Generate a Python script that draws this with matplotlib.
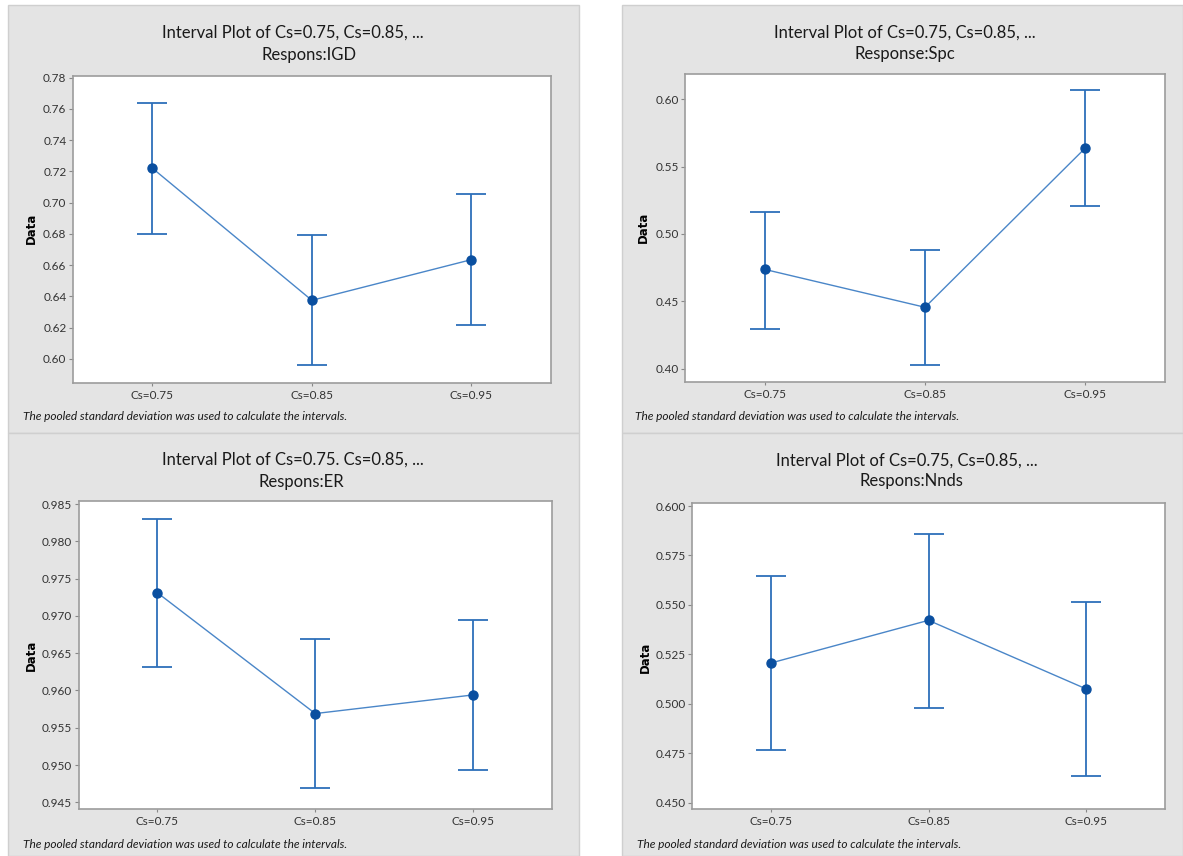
import numpy as np
import matplotlib
matplotlib.use("Agg")
import matplotlib.pyplot as plt
from matplotlib.patches import Rectangle

# category labels shared by the four panels
categories = ["Cs=0.75", "Cs=0.85", "Cs=0.95"]

# IGD response: means and 95% interval ends
igd_mean = [0.722, 0.6375, 0.6635]
igd_low = [0.680, 0.596, 0.622]
igd_high = [0.764, 0.679, 0.7055]

# Spc response
spc_mean = [0.4736, 0.4455, 0.5636]
spc_low = [0.4297, 0.403, 0.5208]
spc_high = [0.5166, 0.4884, 0.6069]

# ER response
er_mean = [0.9731, 0.9569, 0.9594]
er_low = [0.9631, 0.9469, 0.9493]
er_high = [0.9830, 0.9669, 0.9694]

# Nnds response
nnds_mean = [0.5206, 0.5422, 0.5075]
nnds_low = [0.4766, 0.4980, 0.4635]
nnds_high = [0.5647, 0.5860, 0.5515]

W, H = 1183, 856
fig = plt.figure(figsize=(W / 100, H / 100), dpi=100)
fig.patch.set_facecolor("white")

FONT = ["Lato", "DejaVu Sans"]
GREY_BG = "#e4e4e4"
LINE_C = "#4a86c8"
BAR_C = "#2d6fba"
DOT_C = "#0a4fa0"


def px_box(x0, y0, x1, y1):
    # pixel box (top-left origin) -> figure fraction [left, bottom, width, height]
    return [x0 / W, 1 - y1 / H, (x1 - x0) / W, (y1 - y0) / H]


def panel(bg, ax_box, title_xy, sub_xy, subtitle, ylab_xy, foot_xy,
          mean, low, high, ylim, yticks, yfmt, title="Interval Plot of Cs=0.75, Cs=0.85, ..."):
    l, b, w, h = px_box(*bg)
    fig.add_artist(Rectangle((l, b), w, h, transform=fig.transFigure,
                             facecolor=GREY_BG, edgecolor="#cfcfcf", lw=1.0, zorder=-5))

    ax = fig.add_axes(px_box(*ax_box))
    ax.set_facecolor("white")
    x = np.arange(len(categories))
    mean = np.array(mean)
    err = [mean - np.array(low), np.array(high) - mean]
    ax.errorbar(x, mean, yerr=err, fmt="none", ecolor=BAR_C, elinewidth=1.3,
                capsize=10.8, capthick=1.3)
    ax.plot(x, mean, color=LINE_C, lw=1.0)
    ax.plot(x, mean, "o", color=DOT_C, ms=6.5)

    ax.set_xlim(-0.5, 2.5)
    ax.set_ylim(*ylim)
    ax.set_xticks(x)
    ax.set_xticklabels(categories, fontfamily=FONT, fontsize=8.5, color="#333333")
    ax.set_yticks(yticks)
    ax.set_yticklabels([yfmt.format(v) for v in yticks], fontfamily=FONT,
                       fontsize=8.5, color="#333333")
    ax.tick_params(axis="y", length=3, width=0.8, color="#888888", pad=1.5)
    ax.tick_params(axis="x", length=2, width=0.8, color="#888888", pad=3)
    for s in ax.spines.values():
        s.set_color("#9c9c9c")
        s.set_linewidth(1.2)

    fig.text(title_xy[0] / W, 1 - title_xy[1] / H, title, ha="center", va="center",
             fontfamily=FONT, fontsize=12, color="#1a1a1a")
    fig.text(sub_xy[0] / W, 1 - sub_xy[1] / H, subtitle, ha="center", va="center",
             fontfamily=FONT, fontsize=12, color="#1a1a1a")
    fig.text(ylab_xy[0] / W, 1 - ylab_xy[1] / H, "Data", ha="center", va="center",
             rotation=90, fontfamily=["DejaVu Sans"], fontsize=8.5, fontweight="bold")
    fig.text(foot_xy[0] / W, 1 - foot_xy[1] / H,
             "The pooled standard deviation was used to calculate the intervals.",
             ha="left", va="center", fontfamily=FONT, fontsize=8.6, style="italic",
             color="#1a1a1a")
    return ax


panel((8, 5, 579, 433), (72.7, 76, 551, 383), (293, 33), (309, 55), "Respons:IGD",
      (31, 228), (23, 417), igd_mean, igd_low, igd_high,
      (0.5846, 0.781), np.arange(0.60, 0.781, 0.02), "{:.2f}")

panel((622, 5, 1183, 433), (685, 74, 1165, 382), (905, 33), (905, 54), "Response:Spc",
      (643, 227), (635, 417), spc_mean, spc_low, spc_high,
      (0.390, 0.6188), np.arange(0.40, 0.601, 0.05), "{:.2f}")

panel((8, 433, 579, 856), (78.5, 500.7, 552, 809), (293, 460), (301, 481.7), "Respons:ER",
      (31, 655), (23, 844), er_mean, er_low, er_high,
      (0.9441, 0.98545), np.arange(0.945, 0.9851, 0.005), "{:.3f}",
      title="Interval Plot of Cs=0.75. Cs=0.85, ...")

panel((622, 433, 1183, 856), (692, 502.7, 1165, 809.3), (907, 460.7), (911, 480.7), "Respons:Nnds",
      (645, 657), (637, 844), nnds_mean, nnds_low, nnds_high,
      (0.4466, 0.6017), np.arange(0.450, 0.6001, 0.025), "{:.3f}")

fig.savefig("out.png", dpi=100, facecolor=fig.get_facecolor())
